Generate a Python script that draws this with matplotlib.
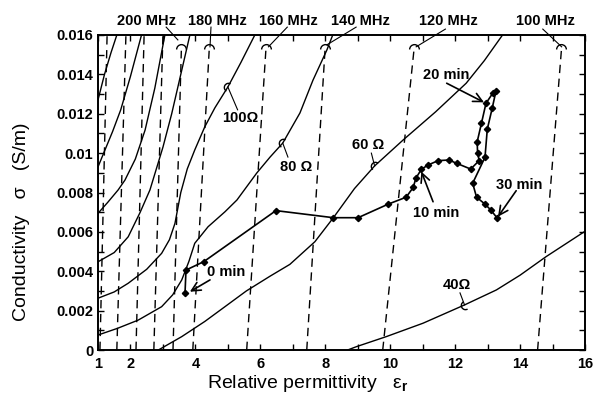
import numpy as np
import matplotlib.pyplot as plt
from matplotlib.path import Path
from matplotlib.markers import MarkerStyle
from matplotlib.transforms import Affine2D
from matplotlib.ticker import FixedLocator, FixedFormatter

plt.rcParams['font.family'] = ['Liberation Sans', 'DejaVu Sans']
plt.rcParams['font.weight'] = 'bold'
plt.rcParams['mathtext.fontset'] = 'custom'
plt.rcParams['mathtext.rm'] = 'Liberation Sans'

# conductivity values below are in units of 1e-3 S/m
# constant-frequency lines: permittivity where each line meets sigma=0 and sigma=0.016
freq_eps_bottom = [1.06, 1.58, 2.17, 2.72, 3.31, 3.92, 5.58, 7.43, 9.77, 14.54]
freq_eps_top = [1.28, 1.86, 2.42, 3.00, 3.58, 4.45, 6.20, 8.02, 10.78, 15.31]
freq_labels = [None, None, None, None, '200 MHz', '180 MHz', '160 MHz', '140 MHz', '120 MHz', '100 MHz']

# constant-resistance curves (unlabelled ones first, high to low)
res_a_eps = [1.0, 1.2, 1.4, 1.58]
res_a_sig = [12.7, 14.0, 15.1, 16.0]
res_b_eps = [1.0, 1.2, 1.45, 1.7, 2.0, 2.34]
res_b_sig = [9.3, 10.1, 11.1, 12.2, 13.9, 16.0]
res_c_eps = [1.0, 1.3, 1.62, 1.83, 2.15, 2.45, 2.75, 3.06]
res_c_sig = [6.94, 7.5, 8.13, 8.63, 9.7, 11.17, 13.3, 16.0]
res_d_eps = [1.0, 1.5, 1.93, 2.3, 2.6, 3.0, 3.27, 3.55, 3.83]
res_d_sig = [4.48, 4.95, 5.75, 7.0, 8.13, 10.3, 12.0, 14.0, 16.0]
res100_eps = [1.0, 1.5, 1.93, 2.5, 2.96, 3.2, 3.37, 3.55, 3.75, 3.98, 4.29, 4.6, 5.0, 5.4, 5.83]
res100_sig = [2.63, 2.95, 3.39, 4.1, 4.91, 5.6, 6.43, 8.0, 9.2, 10.16, 11.34, 12.3, 13.36, 14.6, 16.0]
res80_eps = [1.0, 1.6, 2.24, 2.96, 3.3, 3.58, 3.8, 3.98, 4.39, 4.91, 5.28, 5.89, 6.3, 6.69, 7.22, 7.62, 8.05, 8.23]
res80_sig = [0.76, 1.1, 1.52, 2.2, 2.8, 3.56, 4.5, 5.42, 6.26, 7.02, 7.62, 8.99, 9.8, 10.51, 12.04, 13.7, 15.24, 16.0]
res60_eps = [2.86, 3.58, 4.29, 4.91, 5.57, 6.3, 6.91, 7.68, 8.25, 8.9, 9.52, 10.4, 11.4, 12.34, 12.9, 13.46]
res60_sig = [0.0, 0.68, 1.45, 2.2, 3.0, 3.75, 4.35, 5.5, 6.72, 8.2, 9.35, 10.67, 12.1, 13.55, 14.7, 16.0]
res40_eps = [8.69, 8.96, 9.88, 11.01, 12.29, 13.27, 14.0, 14.8, 16.0]
res40_sig = [0.0, 0.17, 0.68, 1.36, 2.29, 3.05, 3.8, 4.74, 6.03]

# measured trajectory, 0 min to 30 min
traj_eps = [3.68, 3.71, 4.26, 6.48, 8.25, 9.01, 9.94, 10.49, 10.71, 10.79, 10.96,
            11.17, 11.48, 11.81, 12.05, 12.48, 12.74, 12.69, 12.68, 12.81, 12.95,
            13.17, 13.26, 13.14, 12.99, 12.92, 12.54, 12.66, 12.92, 13.10, 13.30]
traj_sig = [2.88, 4.06, 4.49, 7.08, 6.72, 6.72, 7.41, 7.76, 8.26, 8.72, 9.18,
            9.40, 9.62, 9.65, 9.48, 9.19, 9.62, 10.02, 10.58, 11.51, 12.53,
            13.07, 13.17, 12.27, 11.21, 9.79, 8.47, 7.76, 7.41, 7.11, 6.69]

xtick_major = [1, 2, 4, 6, 8, 10, 12, 14, 16]
xtick_minor = [3, 5, 7, 9, 11, 13, 15]
ytick_vals = [0, 0.002, 0.004, 0.006, 0.008, 0.01, 0.012, 0.014, 0.016]
ytick_labels = ['0', '0.002', '0.004', '0.006', '0.008', '0.01', '0.012', '0.014', '0.016']


def s(vals):
    return np.asarray(vals) * 1e-3


def bracket(angle):
    return MarkerStyle(Path.arc(0, 180), transform=Affine2D().rotate_deg(angle))


fig = plt.figure(figsize=(5.96, 4.04), dpi=100)
ax = fig.add_axes([98 / 596, 54 / 404, 487 / 596, 315 / 404])

# dashed constant-frequency lines, labelled ones stop just under their bracket
for eb, et, lab in zip(freq_eps_bottom, freq_eps_top, freq_labels):
    top = 0.016 if lab is None else 0.0152
    e_top = eb + (et - eb) * top / 0.016
    ax.plot([eb, e_top], [0, top], color='black', lw=1.0, linestyle=(0, (6, 4)))
    if lab is not None:
        ax.plot(e_top, top + 0.0001, marker=bracket(0), ms=7, mfc='none',
                mec='black', mew=1.0, clip_on=False)

curves = [(res_a_eps, res_a_sig), (res_b_eps, res_b_sig), (res_c_eps, res_c_sig),
          (res_d_eps, res_d_sig), (res100_eps, res100_sig), (res80_eps, res80_sig),
          (res60_eps, res60_sig), (res40_eps, res40_sig)]
for ce, cs in curves:
    ax.plot(ce, s(cs), color='black', lw=1.0)

ax.plot(traj_eps, s(traj_sig), color='black', lw=1.2, marker='D', ms=3.2)

# frequency labels above the frame with leader lines
freq_text = [(2.48, '200 MHz', (3.10, 0.0164), (3.46, 0.01575)),
             (4.69, '180 MHz', (4.48, 0.0164), (4.45, 0.0154)),
             (6.85, '160 MHz', (6.83, 0.0164), (6.25, 0.0154)),
             (9.09, '140 MHz', (8.95, 0.0164), (8.05, 0.0155)),
             (11.80, '120 MHz', (11.70, 0.0163), (10.80, 0.0154)),
             (14.78, '100 MHz', (14.70, 0.0163), (15.28, 0.0154))]
for ex, txt, p0, p1 in freq_text:
    ax.text(ex, 0.0167, txt, ha='center', va='center', fontsize=10.5, clip_on=False)
    ax.plot([p0[0], p1[0]], [p0[1], p1[1]], color='black', lw=0.8, clip_on=False)

# resistance labels with brackets across the curves
res_text = [('100\u03a9', (5.37, 0.01178), (5.00, 0.01336), (5.30, 0.0122), 60),
            ('80 \u03a9', (7.10, 0.0093), (6.69, 0.01051), (6.85, 0.0098), 60),
            ('60 \u03a9', (9.31, 0.01041), (9.52, 0.00935), (9.42, 0.0100), 50),
            ('40\u03a9', (12.04, 0.0033), (12.29, 0.00229), (12.15, 0.0029), 120)]
for txt, tpos, bpos, lpos, ang in res_text:
    ax.text(tpos[0], tpos[1], txt, ha='center', va='center', fontsize=10.5)
    ax.plot(bpos[0], bpos[1], marker=bracket(ang), ms=6, mfc='none', mec='black', mew=1.0)
    ax.plot([bpos[0], lpos[0]], [bpos[1], lpos[1]], color='black', lw=0.8)

# elapsed-time markers
time_marks = [('0 min', (4.96, 0.00398), (4.45, 0.00356), (3.83, 0.00296)),
              ('10 min', (11.42, 0.00694), (11.32, 0.00753), (10.96, 0.00906)),
              ('20 min', (11.73, 0.01397), (11.74, 0.01355), (12.89, 0.01258)),
              ('30 min', (13.98, 0.00838), (13.88, 0.00809), (13.32, 0.00677))]
for txt, tpos, tail, tip in time_marks:
    ax.text(tpos[0], tpos[1], txt, ha='center', va='center', fontsize=10.5)
    ax.annotate('', xy=tip, xytext=tail,
                arrowprops=dict(arrowstyle='->', lw=1.2, color='black',
                                mutation_scale=16, shrinkA=0, shrinkB=0))

ax.set_xlim(1, 16)
ax.set_ylim(0, 0.016)
ax.xaxis.set_major_locator(FixedLocator(xtick_major))
ax.xaxis.set_minor_locator(FixedLocator(xtick_minor))
ax.yaxis.set_major_locator(FixedLocator(ytick_vals))
ax.yaxis.set_major_formatter(FixedFormatter(ytick_labels))
ax.yaxis.set_minor_locator(FixedLocator(np.arange(0.001, 0.016, 0.002)))
ax.tick_params(which='both', direction='in', top=True, right=True,
               length=4.5, width=1.0, labelsize=10.5)
ax.tick_params(axis='x', pad=5)
for sp in ax.spines.values():
    sp.set_linewidth(1.4)

fig.text(22 / 596, 1 - 222 / 404, 'Conductivity   \u03c3   (S/m)', rotation=90,
         ha='center', va='center', fontsize=14, fontweight='normal')
fig.text(308 / 596, 1 - 383 / 404, 'Relative permittivity   \u03b5$_\\mathrm{r}$',
         ha='center', va='center', fontsize=14, fontweight='normal')

fig.savefig('out.png', dpi=100)
